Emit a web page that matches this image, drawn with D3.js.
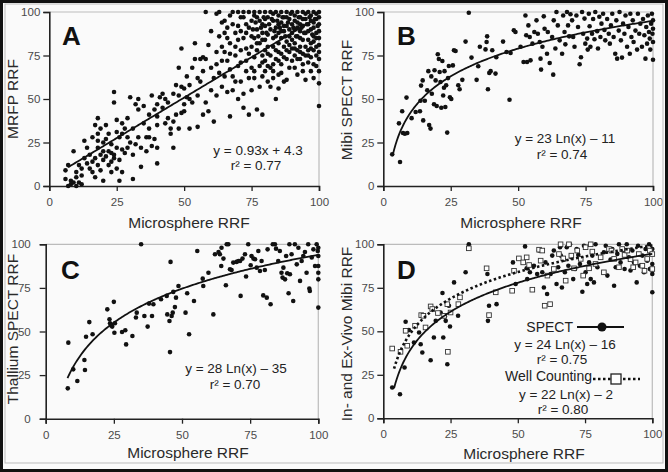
<!DOCTYPE html>
<html><head><meta charset="utf-8">
<script src="https://cdn.jsdelivr.net/npm/d3@7"></script>
<style>
html,body{margin:0;padding:0;background:#fafafa;}
svg{display:block;font-family:"Liberation Sans",Arial,sans-serif;}
</style></head>
<body>
<svg id="c" width="668" height="472"></svg>
<script>
// ---------------- DATA ----------------
const ticks = [0, 25, 50, 75, 100];
const xTitle = "Microsphere RRF";
const yTitles = ["MRFP RRF", "Mibi SPECT RRF", "Thallium SPECT RRF", "In- and Ex-Vivo Mibi RRF"];
const panelLetters = ["A", "B", "C", "D"];

const pointsA = [
[6,9],[6,4],[7,12],[7,0],[8,1],[8,3],[9,2],[9,20],[10,5],[10,8],[10,0],[11,2],[11,12],[12,1],[12,10],[13,26],[14,13],[14,22],[15,18],[15,10],
[16,14],[16,28],[17,35],[17,5],[17,16],[18,39],[18,22],[18,12],[18,30],[19,18],[19,9],[19,33],[20,25],[20,15],[20,3],[21,17],[21,35],[21,27],[22,12],[22,20],[22,30],[23,14],[23,24],[23,8],[24,54],[24,48],[24,16],[24,18],[25,10],[25,31],[25,22],[25,38],[26,28],[26,3],[26,15],[27,36],[27,8],[27,30],[28,19],[28,33],[29,22],[29,39],[30,51],[30,25],[31,4],[31,33],[32,24],[32,47],[33,50],[33,28],[34,11],[34,22],[35,36],[35,46],[36,28],[36,20],[37,41],[37,33],[38,52],[38,23],[39,27],[39,44],[40,13],[40,22],[40,35],[40,40],[41,51],[42,53],[42,45],[43,36],[44,39],[44,48],[45,33],[45,30],[46,22],[46,53],[47,41],[47,58],[48,52],[48,33],[48,68],[49,79],[49,42],[49,57],[50,56],[50,43],[51,63],[51,51],[52,50],[52,33],[53,68],[53,48],[54,73],[54,82],[55,34],[55,52],[56,60],[57,41],[57,74],[58,48],[58,100],[58,73],[59,43],[60,55],[60,68],[61,37],[61,62],[62,52],[62,77],[63,100],[63,86],[63,65],[64,57],[64,80],[65,95],[65,88],[65,63],[66,54],[66,72],[67,98],[67,82],[67,40],[68,100],[68,63],[68,55],[69,88],[69,75],[70,92],[70,69],[70,50],[71,97],[71,78],[71,60],[72,85],[72,53],[72,45],[73,72],[73,88],[74,100],[74,62],[74,41],[75,95],[75,80],[75,68],[75,55],[76,98],[76,85],[76,74],[76,62],[77,90],[77,78],[77,44],[78,100],[78,95],[78,82],[78,57],[78,69],[79,88],[79,75],[79,41],[80,100],[80,92],[80,84],[80,72],[80,66],[81,97],[81,80],[81,60],[82,100],[82,90],[82,75],[82,57],[83,95],[83,85],[83,70],[83,62],[84,100],[84,91],[84,78],[84,50],[85,98],[85,88],[85,82],[85,72],[85,56],[86,100],[86,94],[86,85],[86,76],[86,65],[87,97],[87,89],[87,80],[87,60],[88,100],[88,92],[88,83],[88,73],[89,96],[89,86],[89,77],[90,100],[90,93],[90,88],[90,79],[90,72],[91,98],[91,90],[91,82],[91,75],[92,100],[92,94],[92,86],[92,78],[93,97],[93,89],[93,80],[93,73],[94,100],[94,92],[94,84],[94,76],[95,96],[95,88],[95,61],[95,80],[96,100],[96,93],[96,84],[96,75],[97,98],[97,90],[97,82],[97,74],[98,100],[98,94],[98,86],[98,78],[98,70],[99,96],[99,88],[99,80],[100,100],[100,97],[100,93],[100,89],[100,85],[100,81],[100,77],[100,73],[100,66],[100,59],[100,46],
[80,96],[83,99],[85,93],[88,97],[91,95],[93,93],[95,99],[97,95],[99,99],[77,97],[79,93],[86,89],[89,90],[92,91],[94,96],[96,89],[98,91],[81,87],[84,86],[87,92],[90,84],[93,85],[70,84],[72,97],[74,91],[66,91],[64,94],[62,99],[60,89],[59,81],[56,73],[67,76],[69,60],[73,79],[76,66],[79,63],[82,68],[85,64],[88,61],[91,68],[94,70],[97,66],[70,100],[76,100],[72,100],
[75.5,90],[76.5,94],[77.5,86],[78.5,91],[79.5,97],[80.5,88],[81.5,93],[82.5,96],[83.5,89],[84.5,95],[85.5,91],[86.5,97],[87.5,86],[88.5,94],[89.5,99],[90.5,91],[91.5,86],[92.5,97],[93.5,91],[94.5,88],[95.5,93],[96.5,97],[97.5,87],[98.5,96],[99.5,92],
[79,84],[81,76],[83,80],[85,77],[87,74],[89,81],[91,79],[93,77],[95,75],[97,79],[99,75],[80,78],[84,73],[88,78],[92,73],[96,78],[98,83],[99,85],
[77,82],[79,71],[81,69],[83,66],[86,70],[89,68],[92,64],[94,66],[96,71],[98,62],[99,69],
[71,89],[73,93],[75,86],[68,93],[66,85],[64,72],[69,80],[73,66],[62,70],[65,77],[67,67],[71,71],[74,76],[57,66],[55,62],[52,58],[50,47],[46,37],[43,50],[40,47],[37,28],[33,44],[31,18],[29,28],[27,21],[23,19],[20,20],[18,26],[16,8],[13,16],[12,6]
];

const pointsB = [
[3.3,18.2],[6.2,13.8],[5.8,36],[7,43],[7.3,30.5],[8,30],[8.6,50.8],[8.9,30.5],[10.5,39],[12,42.5],[13.6,43],[13.8,49],[14,57.7],[14.6,60.7],[14.8,37.7],[15.4,49],[16.3,55],[16.7,66],[17,35],[17.5,33],[17.8,63],[18,53],[18.8,47],[19,66.5],[19.4,60.7],[19.8,46],[20.2,75.7],[20.6,73],[20.9,65.5],[21.2,59.8],[21.5,45],[21.9,71.8],[22.2,52],[22.5,56.5],[22.7,66],[23,45.4],[23.3,57.9],[23.7,30.7],[24,62],[24.3,69],[24.7,51],[25.2,50],[25.8,69.3],[26.2,78],[26.8,77.6],[27.8,57.9],[28.3,55.6],[29.3,61],[30.5,83],[31.7,99.6],[32.7,73.8],[34.6,61],[35.2,68.8],[35.8,80],[37.9,78.5],[38.3,82.8],[38.5,86],[38.8,55.6],[39.3,65],[39.8,66],[40.4,78],[41.6,64.6],[41.9,74],[44.4,83],[45.7,77],[46.8,49.6],[47.2,76.4],[48.4,89.5],[49,88.5],[50.9,80],[52,71.3],[52.7,98],[53,86.6],[53.3,71.3],[53.8,92.3],[54.3,85.6],[54.6,72.2],[55.3,81.8],[56,88.5],[56.8,95.2],[57.3,87.5],[58,82.8],[58.3,73.2],[58.5,66.9],[59,80],[59.5,97.5],[59.8,90.4],[60.7,76],[61,88.5],[61.7,70.7],[62.6,85.6],[63,64],[63.2,95.2],[63.8,79],[64.2,100],[64.7,92.3],[65.4,83.7],[66.3,76],[66.7,98],[67.2,88.5],[67.5,81.4],[68.1,100],[68.5,92.3],[68.9,86],[69.4,98.7],[70,95.2],[70.4,85.6],[70.9,80],[71.6,98],[72.2,91.4],[72.8,70],[73.3,74],[73.7,100],[74.1,87.5],[74.6,96.2],[74.9,81.8],[75.6,84.7],[75.8,78.4],[76.2,99],[76.5,91.8],[76.8,80],[77.4,87.5],[77.8,96],[78.3,84.3],[78.6,100],[79.3,89],[79.6,79],[80.1,97.3],[80.5,85.6],[80.9,93.3],[81.5,99],[82,89.7],[82.3,83.7],[83,96],[83.6,87.5],[84,81.8],[84.4,92.3],[84.9,99],[85.4,85.6],[86,76],[86.4,95.2],[86.7,73.2],[87.3,89.3],[87.6,100],[88.1,83.7],[88.5,73.8],[88.9,93.3],[89.4,87.5],[89.8,98],[90.4,80],[90.9,91.4],[91.4,76],[91.6,99],[92,85.6],[92.5,95.2],[92.8,82.8],[93.5,89.3],[94.1,78.4],[94.4,99],[94.9,87.5],[95.3,93.3],[95.9,80],[96.3,96],[96.8,86.6],[97.2,73.2],[97.5,91.4],[97.8,81.8],[98.1,98],[98.5,88.5],[98.8,84.7],[99,78.4],[99.3,93.3],[99.6,99],[99.8,87.5],[100,95.2],[100,90.4],[100,82.8],[100,72.6]
];

const pointsC = [
[8.1,17.4],[8.3,43.6],[10.1,28.3],[11.6,21.6],[14.2,33.7],[14.4,27.9],[14.8,47],[16,55.4],[17.2,48.4],[22.6,62.7],[23.4,57],[23.6,54.7],[24,53.5],[24.4,52.8],[25,67],[25.2,49.3],[25.4,54.7],[28,49.7],[29.2,50.7],[29.5,42.6],[31.8,47.4],[33.1,58],[33.4,60.8],[35,100],[36.2,58.9],[37.4,52.8],[37.9,66],[39,58.9],[39.5,65.6],[42.3,68.5],[44.4,70.4],[44.6,59.8],[45.4,56],[45.6,38.2],[45.8,89.9],[46.2,58.9],[46.6,60.8],[46.8,72.7],[47.4,64],[47.8,69.4],[48.7,76.1],[51.3,60.8],[51.9,71.9],[52.6,48.4],[54.4,67.5],[55.6,96.2],[57.6,80.3],[57.8,76.1],[59.7,83.7],[61.5,59.8],[62.1,94.3],[63.4,95.6],[63.9,94.3],[64.4,87.6],[64.5,98],[65.2,91.8],[66.1,76.5],[66.4,100],[67,100],[67.6,85.7],[68.2,85.3],[68.8,89.5],[70,89.9],[70.7,90.4],[71.3,90.4],[71.5,70.4],[72.2,91.8],[73.1,94.3],[73.5,81.5],[74.3,100],[75.2,88],[75.5,93.3],[76.2,91.8],[76.8,91.4],[77.4,86.6],[78,96.2],[78.6,84.7],[79.2,90.4],[79.8,70.7],[80.4,85.3],[81.1,69.4],[81.4,97.1],[82.5,65.6],[83.3,100],[84.1,100],[84.5,97.5],[85.3,90.4],[85.9,96.2],[86.5,83.7],[86.9,80.9],[87.2,86.6],[87.8,79.9],[88.2,93.3],[88.6,83.4],[89.1,71.9],[89.4,100],[89.6,82.8],[90.2,94.3],[90.8,67.5],[91.4,100],[92.1,88.5],[92.7,98],[93.3,79],[93.9,90.4],[94.5,93.3],[95.1,95.6],[95.7,83.7],[96.3,100],[96.7,74.6],[96.9,73.2],[97.6,92.4],[98.2,97.1],[98.8,87.6],[99.4,100],[99.8,96.2],[100,93.3],[100,87.6],[100,83.7],[100,79.9],[100,63.7],[100,98]
];

const pointsDSpect = [
[3.3,17.7],[6.2,13.8],[7.9,29.2],[8.3,55.5],[9.5,50.7],[11.4,43.6],[13.3,49.3],[13.9,42.6],[14.5,37.8],[15.1,58.9],[17.6,33.4],[18.8,46.4],[19.5,56],[21.3,60.8],[22,72],[22.3,46.4],[22.9,58.5],[23.2,56],[23.8,31.1],[24.4,64.7],[24.8,52.8],[26.3,78.1],[27.8,58.9],[30.6,83.9],[31.8,100],[38.7,82.9],[38.9,56],[39.3,64.7],[42.1,65.6],[48.2,89.6],[49.2,77.2],[52.7,98.8],[53.3,86.2],[53.5,80],[54.5,83.9],[56,87.7],[57.2,82.9],[57.9,96.4],[59.1,83.9],[59.7,75.2],[60.3,89.6],[60.9,71.4],[62.2,82.9],[62.8,93.5],[63.4,96.4],[64.4,77.2],[65,86.8],[65.7,98.3],[66,93.5],[66.4,75.2],[67.2,91.1],[67.5,83.9],[68.2,98.3],[68.8,87.7],[69.4,100],[69.9,92.5],[70.6,80],[71.3,85.8],[71.9,97.3],[72.5,93.9],[73.1,88.7],[74,72.7],[74.6,99.2],[75.2,83.9],[75.8,77.2],[76.5,89.6],[77.1,80],[77.7,93.5],[78.3,78.1],[78.9,100],[79.6,86.8],[80.8,92.5],[82,95.4],[82.7,99.2],[83.3,82],[84.5,91.3],[85.1,97.3],[85.8,76.2],[86.4,86.8],[87,94.5],[87.6,100],[88.2,89.6],[89.2,96.4],[89.7,85.8],[90.5,100],[91.3,92.5],[91.9,84.9],[92.6,96.4],[93.2,89.6],[94.2,78.1],[94.7,99.2],[95.4,87.7],[96.3,93.5],[96.9,83.9],[97.5,97.3],[98.1,90.6],[98.8,100],[99.1,85.8],[99.6,94.5],[100,72.4],[100,88.7],[100,97.3],[100,83]
];

const pointsDWell = [
[3.3,40.1],[6.4,38.2],[8.3,50.3],[8.9,41.7],[11.8,53.2],[14.1,59.3],[14.9,58.9],[15.7,52.2],[17.6,64.3],[18.2,62.8],[20.3,60.5],[22.6,58.9],[23.8,65.6],[24,38.2],[25,60.8],[27.9,65.6],[28.5,69.5],[31.8,97.7],[38.4,86.2],[39.3,59.3],[41.8,72.4],[47.9,73.3],[48.6,84.8],[50.4,91.9],[52,89.6],[53.3,92.5],[54.2,88.1],[55.4,73.9],[57.9,96.9],[58.5,90.6],[59.1,96.4],[60,64.7],[61,82],[62,65.6],[63.4,85.8],[65.3,94.4],[65.9,100],[66.9,91.9],[67.8,79.1],[69,100],[69.9,93.5],[70.9,86.2],[72.1,96.4],[73.4,91.6],[74.3,82],[75.2,98.3],[76.5,86.2],[77.1,100],[77.7,95.8],[78.9,88.7],[80.8,92.5],[82,83.9],[83.9,97.3],[84.8,96.4],[85.8,91.6],[87.6,86.8],[88.8,97.3],[89.7,93.9],[90.7,96.4],[91.9,91.4],[92.9,86.8],[93.8,89.6],[95,94.4],[96.3,87.7],[97.1,84.8],[98.1,91.6],[99.1,96.4],[100,94.4],[100,85.8]
];

// fit coefficients: [type, a, b, xStart]  linear: a*x+b ; log: a*ln(x)+b
const fitA = ["lin", 0.93, 4.3, 7];
const fitB = ["log", 23, -11, 3.5];
const fitC = ["log", 28, -35, 8];
const fitDSpect = ["log", 24, -16, 4];
const fitDWell = ["log", 22, -2, 4];

const eqA = ["y = 0.93x + 4.3", "r² = 0.77"];
const eqB = ["y = 23 Ln(x) \u2013 11", "r² = 0.74"];
const eqC = ["y = 28 Ln(x) \u2013 35", "r² = 0.70"];
const eqD = ["SPECT", "y = 24 Ln(x) \u2013 16", "r² = 0.75", "Well Counting", "y = 22 Ln(x) \u2013 2", "r² = 0.80"];

// ---------------- DRAW ----------------
const svg = d3.select("#c");
svg.append("rect").attr("x",0).attr("y",0).attr("width",668).attr("height",472).attr("fill","#fafafa");

const panels = [
  {x0:49.3, x1:319, y0:186, y1:12, pad:3, pts:pointsA, fits:[fitA], eq:eqA, letter:[62,45], yt:[18,99], xt:[189,228]},
  {x0:383.3, x1:653, y0:186, y1:12, pad:3, pts:pointsB, fits:[fitB], eq:eqB, letter:[397,45], yt:[352,100], xt:[521,228]},
  {x0:45.7, x1:318.3, y0:418.7, y1:244.3, pad:9, pts:pointsC, fits:[fitC], eq:eqC, letter:[61,279], yt:[18,329], xt:[188,458]},
  {x0:383.3, x1:652.3, y0:418.3, y1:244.3, pad:3, pts:pointsDSpect, sq:pointsDWell, fits:[fitDSpect], dfit:fitDWell, eq:eqD, letter:[397,279], yt:[352,334], xt:[524,459]}
];

function fitPts(f){
  const out=[]; for(let x=f[3]; x<=100.001; x+=0.5){ out.push([x, f[0]==="lin"? f[1]*x+f[2] : f[1]*Math.log(x)+f[2]]); } return out;
}

panels.forEach((p,i)=>{
  const xs = d3.scaleLinear().domain([0,100]).range([p.x0,p.x1]);
  const ys = d3.scaleLinear().domain([0,100]).range([p.y0,p.y1]);
  const g = svg.append("g");
  g.append("line").attr("x1",p.x0).attr("x2",p.x1).attr("y1",p.y1).attr("y2",p.y1).attr("stroke","#bbb").attr("stroke-width",1.2);
  g.append("line").attr("x1",p.x1).attr("x2",p.x1).attr("y1",p.y1).attr("y2",p.y0).attr("stroke","#bbb").attr("stroke-width",1.2);
  const ax = g.append("g").attr("transform",`translate(0,${p.y0})`).call(d3.axisBottom(xs).tickValues(ticks).tickSize(5).tickPadding(7));
  const ay = g.append("g").attr("transform",`translate(${p.x0},0)`).call(d3.axisLeft(ys).tickValues(ticks).tickSize(6).tickPadding(p.pad));
  [ax,ay].forEach(a=>{
    a.select(".domain").attr("stroke","#222").attr("stroke-width",1.6);
    a.selectAll(".tick line").attr("stroke","#222").attr("stroke-width",1.3);
    a.selectAll(".tick text").attr("fill","#4a4a4a").attr("font-size","11.5px").attr("font-family","Liberation Sans, Arial, sans-serif");
  });
  g.append("g").selectAll("circle").data(p.pts).join("circle")
    .attr("cx",d=>xs(d[0])).attr("cy",d=>ys(d[1])).attr("r",2.3).attr("fill","#111");
  if(p.sq){
    g.append("g").selectAll("rect").data(p.sq).join("rect")
      .attr("x",d=>xs(d[0])-2.3).attr("y",d=>ys(d[1])-2.3).attr("width",4.6).attr("height",4.6)
      .attr("fill","#fff").attr("stroke","#333").attr("stroke-width",0.9);
  }
  const line = d3.line().x(d=>xs(d[0])).y(d=>ys(Math.min(d[1],100)));
  if(p.dfit){
    g.append("path").attr("d",line(fitPts(p.dfit))).attr("fill","none").attr("stroke","#111").attr("stroke-width",2.6).attr("stroke-dasharray","2.5,2.5");
  }
  p.fits.forEach(f=>{
    g.append("path").attr("d",line(fitPts(f))).attr("fill","none").attr("stroke","#111").attr("stroke-width",1.8);
  });
  g.append("text").attr("x",p.letter[0]).attr("y",p.letter[1]).text(panelLetters[i])
    .attr("font-size","26px").attr("font-weight","bold").attr("fill","#111");
  g.append("text").attr("x",p.xt[0]).attr("y",p.xt[1]).attr("text-anchor","middle").text(xTitle)
    .attr("font-size","15.5px").attr("fill","#2a2a2a");
  g.append("text").attr("transform",`translate(${p.yt[0]},${p.yt[1]}) rotate(-90)`).attr("text-anchor","middle").text(yTitles[i])
    .attr("font-size","15.5px").attr("fill","#2a2a2a");
});

function eqText(x,y,t){ svg.append("text").attr("x",x).attr("y",y).attr("text-anchor","middle").attr("font-size","13.5px").attr("fill","#222").text(t); }
eqText(258,155,eqA[0]); eqText(256,170,eqA[1]);
eqText(565,143,eqB[0]); eqText(562,159,eqB[1]);
eqText(236,373,eqC[0]); eqText(235,389,eqC[1]);
svg.append("text").attr("x",573).attr("y",332).attr("text-anchor","end").attr("font-size","14px").attr("fill","#222").text(eqD[0]);
svg.append("line").attr("x1",577).attr("x2",624).attr("y1",327).attr("y2",327).attr("stroke","#111").attr("stroke-width",2);
svg.append("circle").attr("cx",602).attr("cy",327).attr("r",4.5).attr("fill","#111");
eqText(565,349,eqD[1]); eqText(562,364,eqD[2]);
svg.append("text").attr("x",592).attr("y",381).attr("text-anchor","end").attr("font-size","14px").attr("fill","#222").text(eqD[3]);
svg.append("line").attr("x1",593).attr("x2",640).attr("y1",379).attr("y2",379).attr("stroke","#111").attr("stroke-width",2.6).attr("stroke-dasharray","2.5,2.5");
svg.append("rect").attr("x",611).attr("y",374).attr("width",10).attr("height",10).attr("fill","#fff").attr("stroke","#222").attr("stroke-width",1.3);
eqText(566,399,eqD[4]); eqText(563,414,eqD[5]);

svg.append("rect").attr("x",5).attr("y",4).attr("width",658).attr("height",459).attr("fill","none").attr("stroke","#bbb").attr("stroke-width",1);
svg.append("rect").attr("x",1.5).attr("y",1.5).attr("width",665).attr("height",469).attr("fill","none").attr("stroke","#111").attr("stroke-width",3);
</script>
</body></html>
